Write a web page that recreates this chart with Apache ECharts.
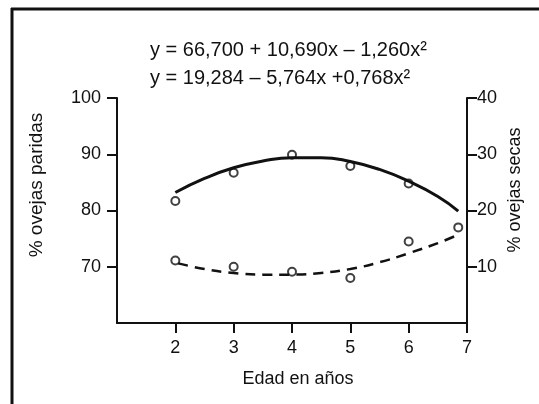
<!DOCTYPE html>
<html lang="es" style="height: 100%">
<head>
  <meta charset="utf-8">
</head>
<body style="height: 100%; margin: 0; background: #fff">
  <div id="container" style="width: 539px; height: 404px"></div>

  <script type="text/javascript" src="https://fastly.jsdelivr.net/npm/echarts@6/dist/echarts.min.js"></script>
  <script type="text/javascript">
    // edad (años) y valores
    var edadParidasPuntos = [2, 3, 4, 5, 6];
    var paridasPuntos = [81.7, 86.7, 89.9, 87.9, 84.8];
    var edadSecasPuntos = [2, 3, 4, 5, 6, 6.85];
    var secasPuntos = [11.1, 10.0, 9.1, 8.0, 14.5, 17.0];

    // curvas ajustadas
    var edadParidas = [2, 2.5, 3, 3.5, 4, 4.5, 5, 5.5, 6, 6.5, 6.85];
    var paridasCurva = [83.2, 85.7, 87.6, 88.8, 89.4, 89.4, 88.7, 87.3, 85.2, 82.5, 79.9];
    var edadSecas = [2.05, 2.5, 3, 3.5, 4, 4.5, 5, 5.5, 6, 6.5, 6.85];
    var secasCurva = [10.6, 9.6, 8.9, 8.6, 8.6, 8.9, 9.6, 10.8, 12.4, 14.2, 15.7];

    var xTicks = [2, 3, 4, 5, 6, 7];
    var ecuaciones = [
      'y = 66,700 + 10,690x \u2013 1,260x\u00b2',
      'y = 19,284 \u2013 5,764x +0,768x\u00b2'
    ];

    function pares(xs, ys) {
      return xs.map(function (x, i) { return [x, ys[i]]; });
    }

    var dom = document.getElementById('container');
    var myChart = echarts.init(dom, null, { renderer: 'canvas' });
    var font = 'Liberation Sans';
    var negro = '#111';

    var option = {
      animation: false,
      backgroundColor: '#fff',
      textStyle: { fontFamily: font, color: negro },
      grid: { left: 117, right: 72, top: 98, bottom: 81 },
      xAxis: {
        type: 'value',
        min: 1,
        max: 7,
        interval: 1,
        splitLine: { show: false },
        axisLine: { lineStyle: { color: negro, width: 2 } },
        axisTick: { length: 10, lineStyle: { color: negro, width: 2 } },
        axisLabel: {
          showMinLabel: false,
          margin: 16,
          fontSize: 18,
          color: negro,
          fontFamily: font,
          formatter: function (v) { return xTicks.indexOf(v) >= 0 ? String(v) : ''; }
        }
      },
      yAxis: [{
        type: 'value',
        position: 'left',
        min: 60,
        max: 100,
        interval: 10,
        splitLine: { show: false },
        axisLine: { show: true, lineStyle: { color: negro, width: 2 } },
        axisTick: { show: true, length: 10, lineStyle: { color: negro, width: 2 } },
        axisLabel: { showMinLabel: false, margin: 16, fontSize: 18, color: negro, fontFamily: font }
      }, {
        type: 'value',
        position: 'right',
        min: 0,
        max: 40,
        interval: 10,
        splitLine: { show: false },
        axisLine: { show: true, lineStyle: { color: negro, width: 2 } },
        axisTick: { show: true, length: 10, lineStyle: { color: negro, width: 2 } },
        axisLabel: { showMinLabel: false, margin: 10, fontSize: 18, color: negro, fontFamily: font }
      }],
      graphic: [
        { type: 'line', shape: { x1: 11, y1: 9, x2: 539, y2: 9 }, style: { stroke: negro, lineWidth: 3 } },
        { type: 'line', shape: { x1: 12, y1: 8, x2: 12, y2: 404 }, style: { stroke: negro, lineWidth: 3 } },
        { type: 'text', x: 150, y: 50,
          style: { text: ecuaciones[0], font: '20px "Liberation Sans"', fill: negro, align: 'left', verticalAlign: 'middle' } },
        { type: 'text', x: 150, y: 78,
          style: { text: ecuaciones[1], font: '20px "Liberation Sans"', fill: negro, align: 'left', verticalAlign: 'middle' } },
        { type: 'text', x: 37, y: 185, rotation: Math.PI / 2,
          style: { text: '% ovejas paridas', font: '19px "Liberation Sans"', fill: negro, align: 'center', verticalAlign: 'middle' } },
        { type: 'text', x: 515, y: 190, rotation: Math.PI / 2,
          style: { text: '% ovejas secas', font: '18px "Liberation Sans"', fill: negro, align: 'center', verticalAlign: 'middle' } },
        { type: 'text', x: 298, y: 379,
          style: { text: 'Edad en a\u00f1os', font: '18px "Liberation Sans"', fill: negro, align: 'center', verticalAlign: 'middle' } }
      ],
      series: [{
        type: 'line',
        yAxisIndex: 0,
        data: pares(edadParidas, paridasCurva),
        smooth: true,
        showSymbol: false,
        lineStyle: { color: negro, width: 3 }
      }, {
        type: 'line',
        yAxisIndex: 1,
        data: pares(edadSecas, secasCurva),
        smooth: true,
        showSymbol: false,
        lineStyle: { color: negro, width: 2.5, type: [10, 7] }
      }, {
        type: 'scatter',
        yAxisIndex: 0,
        data: pares(edadParidasPuntos, paridasPuntos),
        symbol: 'circle',
        symbolSize: 8,
        itemStyle: { color: '#fff', borderColor: negro, borderWidth: 2 }
      }, {
        type: 'scatter',
        yAxisIndex: 1,
        data: pares(edadSecasPuntos, secasPuntos),
        symbol: 'circle',
        symbolSize: 8,
        itemStyle: { color: '#fff', borderColor: negro, borderWidth: 2 }
      }]
    };

    myChart.setOption(option);
    window.addEventListener('resize', myChart.resize);
  </script>
</body>
</html>
